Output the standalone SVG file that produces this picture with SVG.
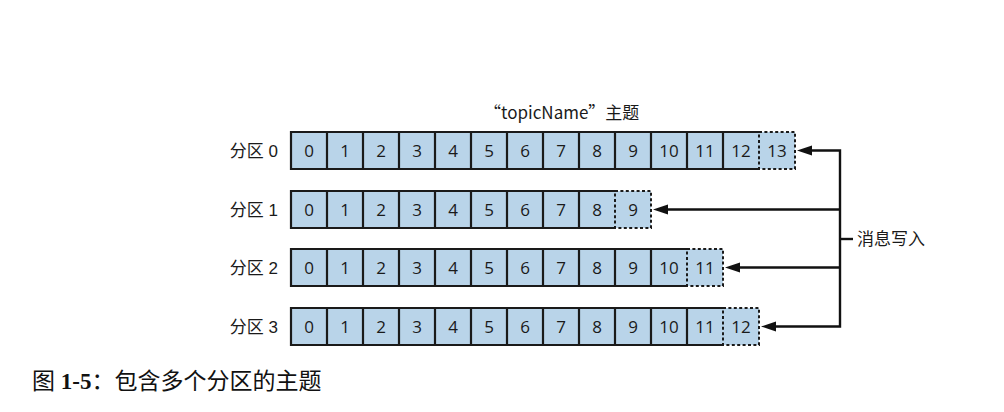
<svg xmlns="http://www.w3.org/2000/svg" width="1004" height="412" viewBox="0 0 1004 412">
<style>
.bg{fill:#b9d4e9;stroke:none}
.solid{fill:none;stroke:#1a1a1a;stroke-width:2.2}
.dash{fill:none;stroke:#1a1a1a;stroke-width:2;stroke-dasharray:3 2.4}
.num{font-family:"Open Sans","Liberation Sans",sans-serif;font-size:17px;fill:#1a1a1a;text-anchor:middle}
.lbl{font-family:"Liberation Sans","Noto Sans CJK SC",sans-serif;font-size:17px;fill:#1a1a1a;text-anchor:end}
.conn{fill:none;stroke:#111;stroke-width:2.4}
.head{fill:#111}
</style>
<rect width="1004" height="412" fill="#fff"/>
<text id="title" x="484" y="119" font-family="Noto Sans CJK SC,sans-serif" font-size="17" fill="#1a1a1a">“topicName”主题</text>

<g id="row0">
<rect class="bg" x="291" y="132" width="504" height="37"/>
<path class="solid" d="M759,132 H291 V169 H759 M327,132 V169 M363,132 V169 M399,132 V169 M435,132 V169 M471,132 V169 M507,132 V169 M543,132 V169 M579,132 V169 M615,132 V169 M651,132 V169 M687,132 V169 M723,132 V169"/>
<rect class="dash" x="759" y="132" width="36" height="37"/>
<text class="lbl" x="278" y="157">分区 0</text>
<g class="num"><text x="309" y="157">0</text><text x="345" y="157">1</text><text x="381" y="157">2</text><text x="417" y="157">3</text><text x="453" y="157">4</text><text x="489" y="157">5</text><text x="525" y="157">6</text><text x="561" y="157">7</text><text x="597" y="157">8</text><text x="633" y="157">9</text><text x="669" y="157">10</text><text x="705" y="157">11</text><text x="741" y="157">12</text><text x="777" y="157">13</text></g>
</g>

<g id="row1">
<rect class="bg" x="291" y="191" width="360" height="37"/>
<path class="solid" d="M615,191 H291 V228 H615 M327,191 V228 M363,191 V228 M399,191 V228 M435,191 V228 M471,191 V228 M507,191 V228 M543,191 V228 M579,191 V228"/>
<rect class="dash" x="615" y="191" width="36" height="37"/>
<text class="lbl" x="278" y="216">分区 1</text>
<g class="num"><text x="309" y="216">0</text><text x="345" y="216">1</text><text x="381" y="216">2</text><text x="417" y="216">3</text><text x="453" y="216">4</text><text x="489" y="216">5</text><text x="525" y="216">6</text><text x="561" y="216">7</text><text x="597" y="216">8</text><text x="633" y="216">9</text></g>
</g>

<g id="row2">
<rect class="bg" x="291" y="249" width="432" height="37"/>
<path class="solid" d="M687,249 H291 V286 H687 M327,249 V286 M363,249 V286 M399,249 V286 M435,249 V286 M471,249 V286 M507,249 V286 M543,249 V286 M579,249 V286 M615,249 V286 M651,249 V286"/>
<rect class="dash" x="687" y="249" width="36" height="37"/>
<text class="lbl" x="278" y="274">分区 2</text>
<g class="num"><text x="309" y="274">0</text><text x="345" y="274">1</text><text x="381" y="274">2</text><text x="417" y="274">3</text><text x="453" y="274">4</text><text x="489" y="274">5</text><text x="525" y="274">6</text><text x="561" y="274">7</text><text x="597" y="274">8</text><text x="633" y="274">9</text><text x="669" y="274">10</text><text x="705" y="274">11</text></g>
</g>

<g id="row3">
<rect class="bg" x="291" y="308" width="468" height="37"/>
<path class="solid" d="M723,308 H291 V345 H723 M327,308 V345 M363,308 V345 M399,308 V345 M435,308 V345 M471,308 V345 M507,308 V345 M543,308 V345 M579,308 V345 M615,308 V345 M651,308 V345 M687,308 V345"/>
<rect class="dash" x="723" y="308" width="36" height="37"/>
<text class="lbl" x="278" y="333">分区 3</text>
<g class="num"><text x="309" y="333">0</text><text x="345" y="333">1</text><text x="381" y="333">2</text><text x="417" y="333">3</text><text x="453" y="333">4</text><text x="489" y="333">5</text><text x="525" y="333">6</text><text x="561" y="333">7</text><text x="597" y="333">8</text><text x="633" y="333">9</text><text x="669" y="333">10</text><text x="705" y="333">11</text><text x="741" y="333">12</text></g>
</g>

<g id="connectors">
<path class="conn" d="M808,150.5 H840 V326.5 H772"/>
<path class="conn" d="M840,209.5 H664"/>
<path class="conn" d="M840,267.5 H736"/>
<path class="conn" d="M840,239 H853"/>
<polygon class="head" points="797,150.5 812,145.5 812,155.5"/>
<polygon class="head" points="653,209.5 668,204.5 668,214.5"/>
<polygon class="head" points="725,267.5 740,262.5 740,272.5"/>
<polygon class="head" points="761,326.5 776,321.5 776,331.5"/>
</g>

<g id="writer">
<text x="857" y="245" font-family="Noto Sans CJK SC,sans-serif" font-size="17" fill="#1a1a1a">消息写入</text>
</g>

<text id="caption" x="32" y="389" font-family="Liberation Serif,Noto Sans CJK SC,serif" font-size="23" fill="#111">图 <tspan font-weight="bold">1-5</tspan>：包含多个分区的主题</text>
</svg>
